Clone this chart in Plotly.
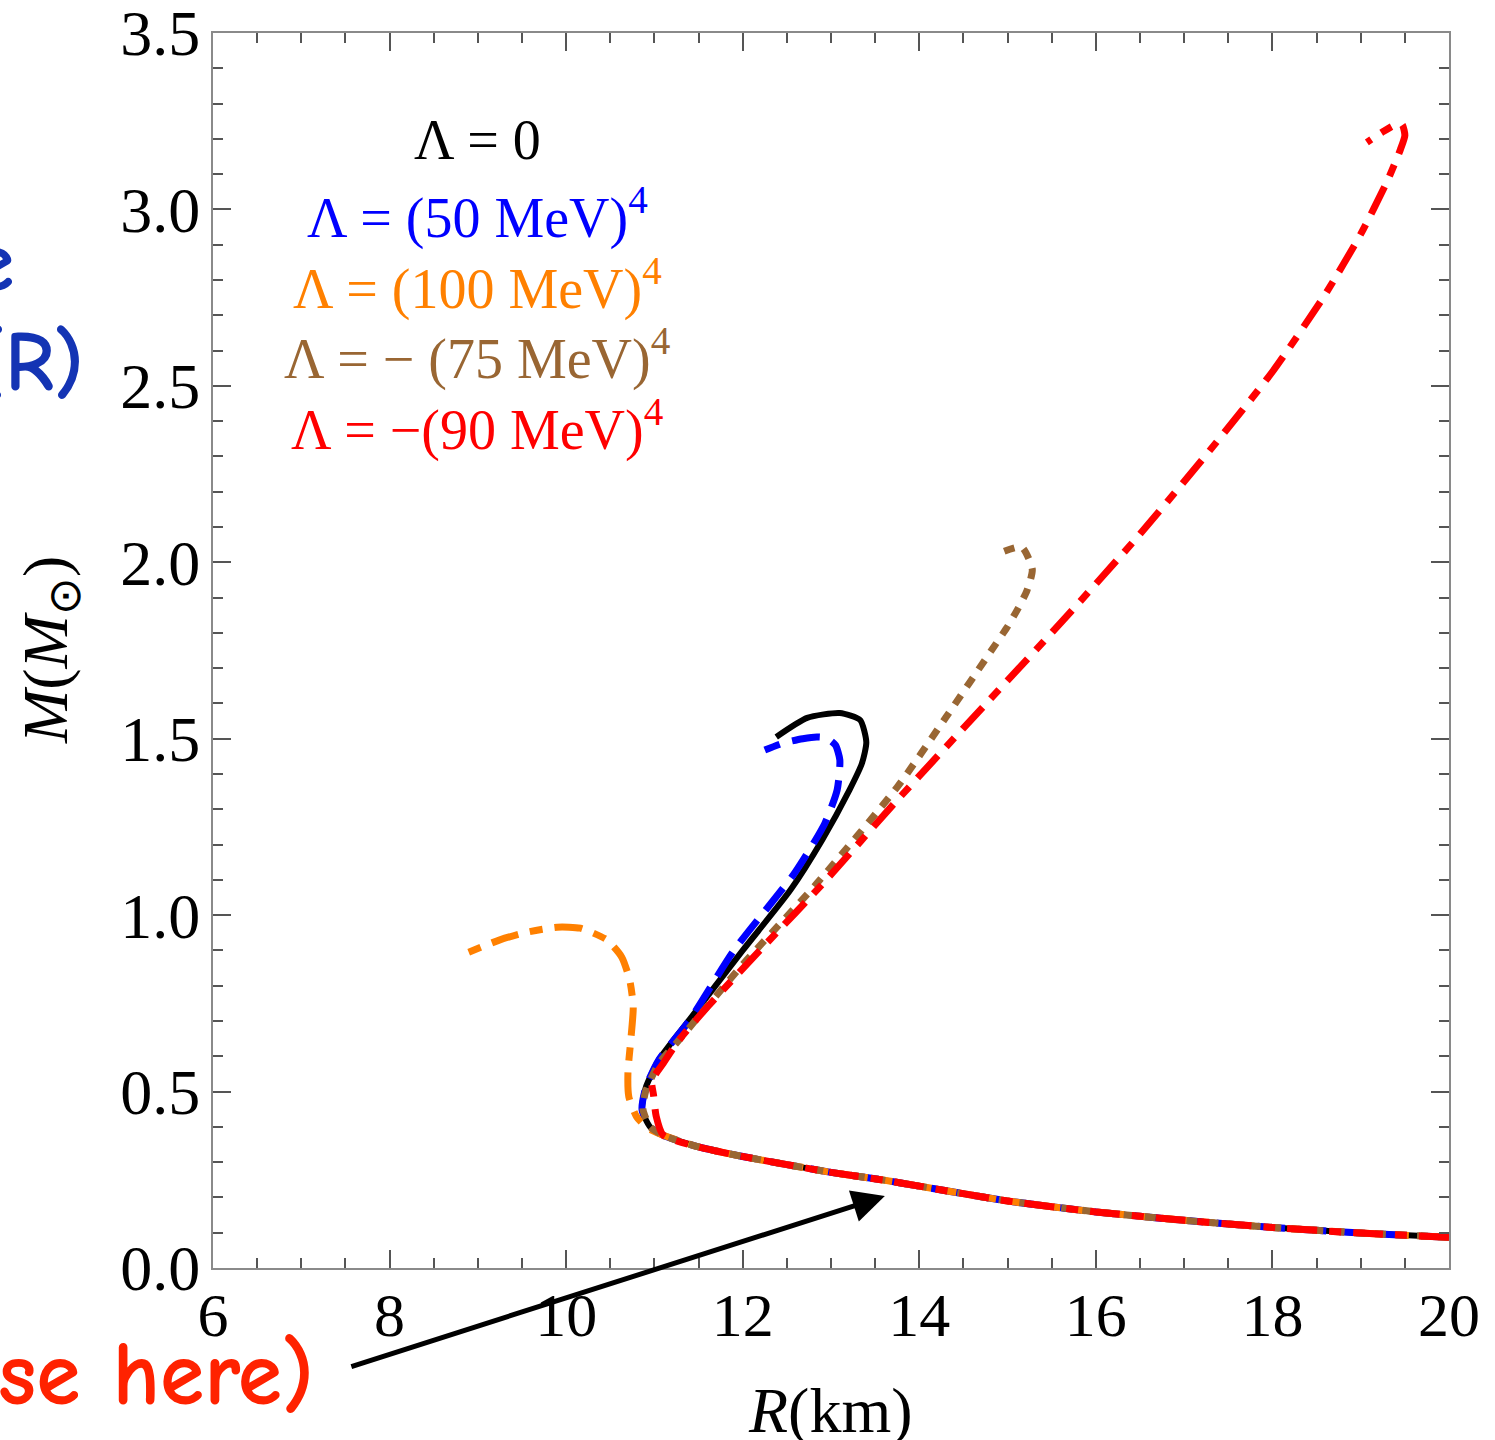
import plotly.graph_objects as go

# Shared low-mass branch (R in km, M in solar masses), traversed from large R inward
R_low = [20.0, 19.0, 18.0, 17.0, 16.0, 15.0, 14.0, 13.6, 13.0, 12.5, 12.0, 11.5, 11.1]
M_low = [0.087, 0.099, 0.115, 0.135, 0.159, 0.190, 0.232, 0.249, 0.271, 0.293, 0.316, 0.343, 0.376]

# Lambda = 0
R_zero = [10.95, 10.86, 10.90, 11.05, 11.40, 12.00, 12.54, 12.90, 13.21, 13.35, 13.40, 13.33, 13.10, 12.73, 12.38]
M_zero = [0.400, 0.448, 0.510, 0.590, 0.705, 0.900, 1.071, 1.213, 1.355, 1.430, 1.490, 1.553, 1.573, 1.559, 1.505]

# Lambda = (50 MeV)^4
R_p50 = [10.95, 10.86, 10.90, 11.05, 11.40, 11.90, 12.59, 12.93, 13.07, 13.10, 13.05, 12.95, 12.84, 12.68, 12.46, 12.25]
M_p50 = [0.400, 0.448, 0.510, 0.590, 0.703, 0.900, 1.120, 1.260, 1.355, 1.440, 1.482, 1.502, 1.505, 1.500, 1.488, 1.468]

# Lambda = (100 MeV)^4
R_p100 = [10.92, 10.80, 10.71, 10.70, 10.73, 10.76, 10.72, 10.63, 10.46, 10.16, 9.90, 9.56, 9.25, 8.82]
M_p100 = [0.397, 0.428, 0.485, 0.555, 0.640, 0.740, 0.816, 0.881, 0.930, 0.963, 0.966, 0.952, 0.930, 0.887]

# Lambda = -(75 MeV)^4
R_m75 = [10.95, 10.87, 10.90, 11.05, 11.25, 12.00, 12.84, 13.75, 14.30, 14.86, 14.99, 15.11, 15.22, 15.28, 15.16, 14.91]
M_m75 = [0.400, 0.450, 0.500, 0.580, 0.638, 0.860, 1.090, 1.363, 1.560, 1.766, 1.814, 1.865, 1.920, 1.980, 2.043, 2.026]

# Lambda = -(90 MeV)^4
R_m90 = [11.02, 10.99, 10.97, 11.10, 11.26, 11.60, 12.25, 12.91, 13.75, 14.50, 15.63, 16.50, 17.30, 18.00, 18.60, 19.00, 19.30, 19.45, 19.50, 19.47, 19.41, 19.25, 19.07]
M_m90 = [0.430, 0.490, 0.530, 0.580, 0.640, 0.740, 0.915, 1.090, 1.326, 1.530, 1.836, 2.080, 2.320, 2.540, 2.760, 2.930, 3.080, 3.170, 3.210, 3.240, 3.242, 3.220, 3.190]

series = [
    ("Λ = 0", R_zero, M_zero, "#000000", "solid", 6),
    ("Λ = (50 MeV)<sup>4</sup>", R_p50, M_p50, "#0000FF", "28px,13px", 7),
    ("Λ = (100 MeV)<sup>4</sup>", R_p100, M_p100, "#FF8000", "28px,12px,13px,12px", 7),
    ("Λ = − (75 MeV)<sup>4</sup>", R_m75, M_m75, "#996633", "11px,10px", 7),
    ("Λ = −(90 MeV)<sup>4</sup>", R_m90, M_m90, "#FF0000", "30px,12px,12px,12px", 7),
]

W, H = 1495, 1440
L, R, T, B = 213, 1449, 33, 1268


def px(x):
    return (x - L) / (R - L)


def py(y):
    return (B - y) / (B - T)


fig = go.Figure()
for name, rr, mm, col, dash, w in series:
    fig.add_trace(go.Scatter(
        x=R_low + rr, y=M_low + mm, mode="lines", name=name,
        line=dict(color=col, dash=dash, width=w, shape="spline", smoothing=0.6),
        showlegend=False, hoverinfo="skip",
    ))

serif = "Liberation Serif, Times New Roman, serif"
axis_common = dict(
    showline=True, linecolor="#8a8a8a", linewidth=2, mirror="ticks",
    ticks="inside", ticklen=18, tickwidth=1.5, tickcolor="#555555",
    showgrid=False, zeroline=False, automargin=False, ticklabeloverflow="allow",
)

fig.update_xaxes(range=[6, 20], dtick=2, tick0=6,
                 minor=dict(ticks="inside", ticklen=10, dtick=0.5, tickcolor="#555555", tickwidth=1.5),
                 tickfont=dict(family=serif, size=62, color="black"),
                 ticklabelstandoff=-8, **axis_common)
fig.update_yaxes(range=[0, 3.5], dtick=0.5, tick0=0, tickformat=".1f",
                 minor=dict(ticks="inside", ticklen=10, dtick=0.1, tickcolor="#555555", tickwidth=1.5),
                 tickfont=dict(family=serif, size=64, color="black"),
                 ticklabelstandoff=-2, **axis_common)

ann = []
# in-plot key
key_rows = [(140, 0), (214, 1), (285, 2), (355, 3), (426, 4)]
for yc, i in key_rows:
    ann.append(dict(x=px(477), y=py(yc), xref="paper", yref="paper", text=series[i][0],
                    showarrow=False, xanchor="center", yanchor="middle",
                    font=dict(family=serif, size=56, color=series[i][3])))

# axis titles
ann.append(dict(x=px(830), y=py(1410), xref="paper", yref="paper",
                text="<i>R</i>(km)", showarrow=False, xanchor="center", yanchor="middle",
                font=dict(family=serif, size=64, color="black")))
ann.append(dict(x=px(50), y=py(650), xref="paper", yref="paper", textangle=-90,
                text="<i>M</i>(<i>M</i><sub>⊙</sub>)", showarrow=False, xanchor="center", yanchor="middle",
                font=dict(family=serif, size=64, color="black")))

# side notes
note_font = "Comic Neue, DejaVu Sans, sans-serif"
ann.append(dict(x=px(16), y=py(262), xref="paper", yref="paper", text="<b>e</b>",
                showarrow=False, xanchor="right", yanchor="middle",
                font=dict(family=note_font, size=84, color="#1434B4")))
ann.append(dict(x=px(86), y=py(362), xref="paper", yref="paper", text="<b>(R)</b>",
                showarrow=False, xanchor="right", yanchor="middle",
                font=dict(family=note_font, size=84, color="#1434B4")))
ann.append(dict(x=px(316), y=py(1375), xref="paper", yref="paper", text="<b>se here)</b>",
                showarrow=False, xanchor="right", yanchor="middle",
                font=dict(family=note_font, size=90, color="#FF2200")))

# pointer to the shared low-mass branch
ann.append(dict(x=13.61, y=0.204, xref="x", yref="y", ax=-535, ay=171, text="",
                showarrow=True, arrowhead=2, arrowsize=1.3, arrowwidth=5, arrowcolor="black",
                standoff=0))

fig.update_layout(
    width=W, height=H,
    margin=dict(l=L, r=W - R, t=T, b=H - B, pad=0, autoexpand=False),
    plot_bgcolor="white", paper_bgcolor="white",
    annotations=ann,
)

fig.write_html("out.html")
